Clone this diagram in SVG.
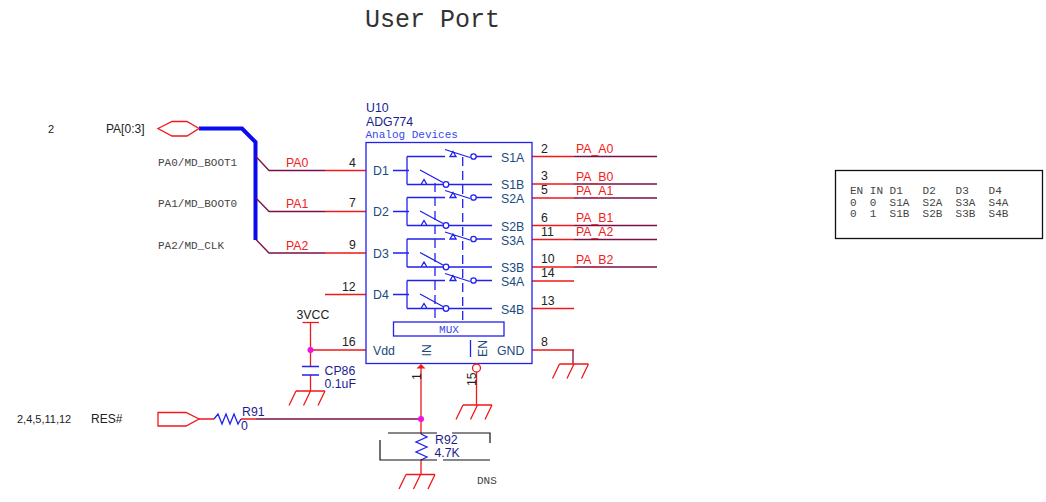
<svg xmlns="http://www.w3.org/2000/svg" width="1046" height="502" viewBox="0 0 1046 502">
<style>
text{font-family:"Liberation Sans",Arial,sans-serif;font-size:12.3px}
.m{font-family:"Liberation Mono","Courier New",monospace;font-size:11px;fill:#444}
.a{font-family:"Liberation Mono","Courier New",monospace;font-size:11px;fill:#3848f0}
.bl{fill:#1a4a80}.nv{fill:#1c1c90}.k{fill:#222}.r{fill:#f02020}
.ln{fill:none;stroke:#f01818;stroke-width:1.3}
.net{fill:none;stroke:#7a1048;stroke-width:1.3}
.b{fill:none;stroke:#2020f0;stroke-width:1.3}
.blk{fill:none;stroke:#111;stroke-width:1.2}
</style>
<defs>
<g id="gnd"><path class="ln" d="M-14.500 0H14.500M-14.500 0L-21.500 14.500M0 0L-7 14.500M14.500 0L7.500 14.500"/></g>
<g id="sw">
<path class="b" d="M13 0H29M27 -14V14M27 -14H65M65 -21L90 -13M96 -14H112M27 14H63.500M40 -0.500L63 12M69 14H112M70 -14L73 -19L76 -14ZM41 14L44 9L47 14Z"/>
<circle class="b" cx="93.500" cy="-14" r="2.700"/>
<circle class="b" cx="66" cy="14" r="2.800"/>
</g>
</defs>
<rect width="1046" height="502" fill="#fff"/>
<g id="title"><text x="365" y="27" style="font-family:'Liberation Mono',monospace;font-size:25px;fill:#333">User Port</text></g>
<g id="connectors">
<path d="M199 128.500H242L255.500 142V240" fill="none" stroke="#0a0af0" stroke-width="4"/>
<path class="net" d="M255.500 156L269 170.500H325M255.500 197.500L269 211.500H325M255.500 239L269 253H325"/>
<path class="ln" d="M325 170.500H366M325 211.500H366M325 253H366M325 294.500H366M310 350H366"/>
<path class="ln" d="M532 156.500H574M532 184H574M532 198H574M532 225.500H574M532 239.500H574M532 267H574M532 281H574M532 308.500H574M532 350H574"/>
<path class="net" d="M574 156.500H657M574 184H657M574 198H657M574 225.500H657M574 239.500H657M574 267H657"/>
<path class="net" d="M573 350V364"/>
<path class="ln" d="M310.500 323V367M310.500 375V391"/>
<path class="ln" d="M421 368V434M421 460V475M476.500 372V405"/>
<path class="ln" d="M199 419H214M241 419H256"/>
<path class="net" d="M256 419H421"/>
</g>
<g id="PA_port">
<path class="ln" d="M158 128.500L172 121.500H187L199 128.500L187 136H172Z"/>
<text x="48" y="133" class="k" style="font-size:11px">2</text>
<text x="106" y="133" class="k" style="font-size:12px">PA[0:3]</text>
<text x="158" y="166" class="m">PA0/MD_BOOT1</text>
<text x="158" y="207" class="m">PA1/MD_BOOT0</text>
<text x="158" y="248.500" class="m">PA2/MD_CLK</text>
<text x="286" y="167" class="r">PA0</text>
<text x="286" y="208" class="r">PA1</text>
<text x="286" y="250" class="r">PA2</text>
</g>
<g id="U10">
<rect x="366" y="142.500" width="166" height="221" class="b"/>
<text x="366" y="112" class="nv">U10</text>
<text x="366" y="126" class="nv">ADG774</text>
<text x="365.500" y="138" class="a">Analog Devices</text>
<use href="#sw" x="380" y="170.500"/>
<use href="#sw" x="380" y="211.500"/>
<use href="#sw" x="380" y="253"/>
<use href="#sw" x="380" y="294.500"/>
<path class="b" stroke-dasharray="9 5" d="M435 183V322M462.700 157V322"/>
<rect x="393.500" y="322" width="110.500" height="14" class="b"/>
<text x="449" y="332.500" text-anchor="middle" class="a">MUX</text>
<path class="b" d="M470.500 340V357"/>
<text x="373" y="175" class="bl">D1</text><text x="373" y="216" class="bl">D2</text><text x="373" y="258" class="bl">D3</text><text x="373" y="299" class="bl">D4</text>
<text x="501" y="162" class="bl">S1A</text><text x="501" y="189" class="bl">S1B</text><text x="501" y="203" class="bl">S2A</text><text x="501" y="231" class="bl">S2B</text><text x="501" y="245" class="bl">S3A</text><text x="501" y="272" class="bl">S3B</text><text x="501" y="286" class="bl">S4A</text><text x="501" y="314" class="bl">S4B</text>
<text x="373" y="355" class="bl">Vdd</text><text x="497" y="355" class="bl">GND</text>
<text transform="translate(430.500 356.500) rotate(-90)" class="bl">IN</text>
<text transform="translate(486.500 357) rotate(-90)" class="bl">EN</text>
<text x="349" y="167" class="k">4</text><text x="349" y="207" class="k">7</text><text x="349" y="249" class="k">9</text><text x="342" y="291" class="k">12</text><text x="342" y="346" class="k">16</text>
<text x="541" y="153" class="k">2</text><text x="541" y="180" class="k">3</text><text x="541" y="194" class="k">5</text><text x="541" y="222" class="k">6</text><text x="541" y="236" class="k">11</text><text x="541" y="263" class="k">10</text><text x="541" y="277" class="k">14</text><text x="541" y="305" class="k">13</text><text x="541" y="346" class="k">8</text>
<text x="576" y="153" class="r">PA_A0</text><text x="576" y="181" class="r">PA_B0</text><text x="576" y="195" class="r">PA_A1</text><text x="576" y="222" class="r">PA_B1</text><text x="576" y="236" class="r">PA_A2</text><text x="576" y="264" class="r">PA_B2</text>
<path d="M416.500 368.500L421 364L425.500 368.500Z" fill="#f01818"/>
<circle cx="476.500" cy="368" r="4" fill="#fff" stroke="#f01818" stroke-width="1.300"/>
<text transform="translate(421 380) rotate(-90)" class="k">1</text>
<text transform="translate(476 386) rotate(-90)" class="k">15</text>
</g>
<g id="gnd8"><use href="#gnd" x="574" y="364"/></g>
<g id="gnd15"><use href="#gnd" x="477.500" y="405"/></g>
<g id="gndC"><use href="#gnd" x="310.500" y="391"/></g>
<g id="gndR"><use href="#gnd" x="420.500" y="474.500"/></g>
<g id="CP86">
<text x="296.500" y="318.500" class="k">3VCC</text>
<path class="ln" d="M302.500 322.500H319"/>
<path class="b" d="M302 366.500H319M302 375H319"/>
<circle cx="310.500" cy="350" r="3" fill="#f010e0"/>
<text x="324.500" y="375" class="nv">CP86</text><text x="324.500" y="388" class="nv">0.1uF</text>
</g>
<g id="RES_port">
<path class="ln" d="M158 412.500H186L199 419L186 426H158Z"/>
<text x="17" y="423" class="k" style="font-size:11px">2,4,5,11,12</text>
<text x="91" y="423" class="k" style="font-size:12px">RES#</text>
</g>
<g id="R91">
<path class="b" d="M214 419L218 414L222 424L226 414L230 424L234 414L238 424L241 419"/>
<text x="242" y="416" class="nv">R91</text><text x="241" y="430" class="nv">0</text>
</g>
<g id="R92">
<path class="b" d="M421 434L427 437L416 442L427 447L416 452L427 457L421 460"/>
<circle cx="421" cy="419" r="3" fill="#f010e0"/>
<path class="blk" d="M388 433H437M452 433H490V443M380 440V460H437M443 460H490"/>
<text x="435" y="443.500" class="nv">R92</text><text x="434.500" y="457" class="nv">4.7K</text>
<text x="477" y="484" class="m">DNS</text>
</g>
<g id="truth_table">
<rect x="835.500" y="170.500" width="207" height="68" fill="none" stroke="#111" stroke-width="1.300"/>
<text x="850" y="193.500" class="m" xml:space="preserve">EN IN D1   D2   D3   D4</text>
<text x="850" y="205.500" class="m" xml:space="preserve">0  0  S1A  S2A  S3A  S4A</text>
<text x="850" y="217" class="m" xml:space="preserve">0  1  S1B  S2B  S3B  S4B</text>
</g>
</svg>
